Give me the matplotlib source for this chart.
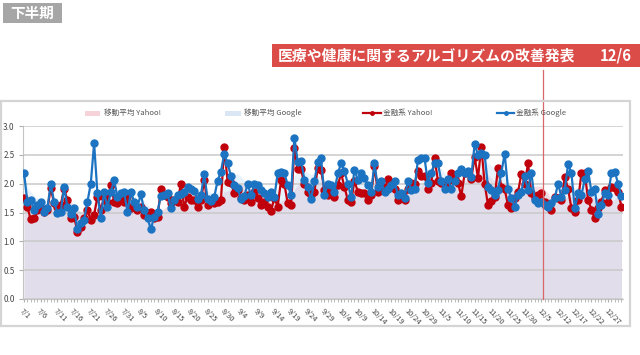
import numpy as np
import pandas as pd
import matplotlib
matplotlib.use('Agg')
import matplotlib.pyplot as plt
from matplotlib.patches import Rectangle
from matplotlib.lines import Line2D

plt.rcParams['font.family'] = ['Noto Sans CJK JP', 'DejaVu Sans']

# x tick labels (every 5th data point)
tick_labels = ['7/1', '7/6', '7/11', '7/16', '7/21', '7/26', '7/31', '8/5', '8/10', '8/15',
               '8/20', '8/25', '8/30', '9/4', '9/9', '9/14', '9/19', '9/24', '9/29', '10/4',
               '10/9', '10/14', '10/19', '10/24', '10/29', '11/5', '11/10', '11/15', '11/20',
               '11/25', '11/30', '12/5', '12/12', '12/17', '12/22', '12/27']

# 金融系 Yahoo!
yahoo = [1.75, 1.60, 1.38, 1.40, 1.54, 1.57, 1.51, 1.54, 1.93, 1.66, 1.60, 1.63, 1.91, 1.72, 1.40,
         1.43, 1.17, 1.25, 1.40, 1.54, 1.37, 1.46, 1.77, 1.54, 1.77, 1.69, 1.98, 1.69, 1.66, 1.72,
         1.69, 1.77, 1.57, 1.63, 1.54, 1.60, 1.46, 1.49, 1.51, 1.40, 1.42, 1.91, 1.80, 1.77, 1.66,
         1.72,
         1.69, 2.00, 1.60, 1.77, 1.72, 1.72, 1.60, 1.72, 2.06, 1.63, 1.72, 1.66, 1.69, 1.72, 2.63,
         2.03, 2.02, 1.83, 1.89, 1.75, 1.72, 1.80, 1.69, 1.86, 1.75, 1.63, 1.69, 1.60, 1.53, 1.75,
         1.60, 2.06, 2.00, 1.66, 1.63, 2.61, 2.26, 2.25, 2.00, 1.86, 1.80, 1.86, 2.28, 2.24, 1.89,
         1.80, 1.92,
         1.77, 1.97, 2.18, 1.94, 1.72, 1.69, 2.05, 1.86, 1.84, 1.83, 1.72, 1.80, 2.30, 1.86, 1.97,
         1.89, 2.08, 1.97, 1.91, 1.71, 1.80, 1.72, 1.91, 2.02, 2.00, 2.22, 2.14, 2.14, 1.91, 2.02,
         2.44, 2.05, 2.02, 2.00, 2.05, 2.19, 2.08, 2.02, 1.78, 2.18, 2.20, 2.08, 2.47, 2.10, 2.64,
         2.00,
         1.63, 1.70, 1.77, 2.27, 1.95, 1.90, 1.63, 1.57, 1.75, 1.85, 2.17, 2.00, 2.35, 1.83, 1.75,
         1.80, 1.83, 1.69, 1.65, 1.54, 1.77, 1.75, 1.72, 2.12, 1.91, 1.57, 1.51, 1.72, 2.18, 2.18,
         1.72, 1.55, 1.40, 1.57, 1.69, 1.89, 1.69, 1.95, 1.92, 1.85, 1.60]

# 金融系 Google
google = [2.19, 1.69, 1.72, 1.54, 1.63, 1.69, 1.51, 1.57, 2.00, 1.69, 1.50, 1.51, 1.94, 1.60, 1.48,
          1.57, 1.21, 1.31, 1.37, 1.69, 2.00, 2.70, 1.83, 1.40, 1.85, 1.60, 1.85, 2.06, 1.77, 1.83,
          1.85, 1.51, 1.85, 1.69, 1.60, 1.82, 1.54, 1.40, 1.21, 1.43, 1.51, 1.79, 1.80, 1.83, 1.57,
          1.72,
          1.80, 1.82, 1.85, 1.94, 1.90, 1.88, 1.73, 1.80, 2.17, 1.73, 1.70, 1.77, 2.05, 2.21, 2.52,
          2.35, 2.13, 1.98, 1.93, 1.73, 1.79, 1.99, 1.80, 1.99, 1.98, 1.89, 1.83, 1.77, 1.85, 1.77,
          2.18, 2.21, 2.18, 1.98, 1.80, 2.80, 2.38, 2.40, 2.07, 1.94, 1.73, 2.04, 2.38, 2.44, 1.80,
          2.00, 1.98,
          1.86, 2.18, 2.35, 2.22, 2.00, 1.77, 2.24, 2.06, 2.18, 2.09, 1.97, 1.86, 2.35, 1.94, 2.05,
          1.86, 1.91, 1.97, 2.05, 1.80, 1.83, 1.75, 2.05, 1.89, 1.91, 2.41, 2.44, 2.44, 2.02, 2.19,
          2.35, 2.35, 2.05, 1.91, 2.08, 1.91, 2.05, 2.19, 2.26, 2.19, 2.22, 2.11, 2.69, 2.50, 2.53,
          2.50,
          1.95, 1.89, 1.80, 1.89, 2.19, 2.52, 1.91, 1.75, 1.60, 1.80, 1.86, 2.14, 1.89, 2.19, 1.72,
          1.66, 1.69, 1.63, 1.60, 1.66, 1.75, 2.00, 1.77, 1.89, 2.34, 2.18, 1.57, 1.83, 1.80, 2.08,
          2.22, 1.86, 1.90, 1.48, 1.63, 1.84, 1.80, 2.19, 2.20, 2.00, 1.78]

# 移動平均 (7 points)
ma_yahoo = pd.Series(yahoo).rolling(7, min_periods=1).mean()
ma_google = pd.Series(google).rolling(7, min_periods=1).mean()

event_pos = 155.5  # 12/6

W, H = 640, 355
fig = plt.figure(figsize=(W / 100, H / 100), dpi=100)

def fx(px):
    return px / W

def fy(py):
    return 1 - py / H

# outer frame of the chart
fig.patches.append(Rectangle((fx(0.8), fy(326)), fx(629), 225 / H, transform=fig.transFigure,
                             fill=False, ec='#d4d4d4', lw=1.6))

# header boxes
fig.patches.append(Rectangle((fx(3), fy(23)), fx(59), 20 / H, transform=fig.transFigure,
                             fc='#a6a6a6', ec='none'))
fig.text(fx(32.5), fy(13), '下半期', color='white', fontsize=10.5, fontweight='bold',
         ha='center', va='center')
fig.patches.append(Rectangle((fx(272), fy(67)), fx(368), 23 / H, transform=fig.transFigure,
                             fc='#db4b47', ec='none'))
fig.text(fx(278), fy(55.5), '医療や健康に関するアルゴリズムの改善発表', color='white',
         fontsize=10.7, fontweight='bold', ha='left', va='center')
fig.text(fx(632), fy(55.5), '12/6', color='white', fontsize=10.7, fontweight='bold',
         ha='right', va='center')

ax = fig.add_axes([fx(23), fy(299), fx(599.5), 173 / H])
x = np.arange(len(yahoo))

ax.fill_between(x, 0, ma_yahoo, color='#e9aaba', alpha=0.4, lw=0, zorder=1)
ax.fill_between(x, 0, ma_google, color='#c6dff9', alpha=0.4, lw=0, zorder=1)
ax.plot(x, yahoo, color='#c0000b', lw=1.6, marker='o', ms=5.0, zorder=3)
ax.plot(x, google, color='#1b73c2', lw=1.6, marker='o', ms=5.0, zorder=4)

ax.axvline(event_pos, ymin=0, ymax=(299 - 70) / 173, color='#d9676a', lw=0.9,
           clip_on=False, zorder=5)

ax.set_xlim(-0.3, len(yahoo) - 0.7)
ax.set_ylim(0, 3.0)
ax.set_yticks(np.arange(0, 3.01, 0.5))
ax.set_yticklabels(['%.1f' % v for v in np.arange(0, 3.01, 0.5)])
ax.set_xticks(np.arange(0, 5 * len(tick_labels), 5))
ax.set_xticklabels(tick_labels, rotation=-45, ha='left', va='top', rotation_mode='anchor')
ax.set_xticks(x, minor=True)
ax.tick_params(axis='x', which='both', length=2, color='#b0b0b0', labelsize=5.4,
               labelcolor='#444444', pad=4)
ax.tick_params(axis='y', length=3, color='#b0b0b0', labelsize=5.8, labelcolor='#444444', pad=3)

ax.set_axisbelow(False)
ax.grid(axis='y', color='#c9c9c9', lw=1.1)
for s in ['top', 'right']:
    ax.spines[s].set_visible(False)
ax.spines['left'].set_color('#c4c4c4')
ax.spines['bottom'].set_color('#c4c4c4')

# legend
leg_y = fy(113)
fig.patches.append(Rectangle((fx(85), fy(116)), fx(15), 5 / H, transform=fig.transFigure,
                             fc='#f6d3d9', ec='none'))
fig.text(fx(104), leg_y, '移動平均 Yahoo!', fontsize=5.5, color='#555555', va='center')
fig.patches.append(Rectangle((fx(225), fy(116)), fx(16), 5 / H, transform=fig.transFigure,
                             fc='#dbe6f4', ec='none'))
fig.text(fx(244), leg_y, '移動平均 Google', fontsize=5.5, color='#555555', va='center')
fig.lines.append(Line2D([fx(363), fx(381)], [leg_y, leg_y], transform=fig.transFigure,
                        color='#c0000b', lw=1.6))
fig.lines.append(Line2D([fx(372)], [leg_y], transform=fig.transFigure, color='#c0000b',
                        marker='o', ms=2.5))
fig.text(fx(383), leg_y, '金融系 Yahoo!', fontsize=5.5, color='#555555', va='center')
fig.lines.append(Line2D([fx(497), fx(514)], [leg_y, leg_y], transform=fig.transFigure,
                        color='#1b73c2', lw=1.6))
fig.lines.append(Line2D([fx(505.5)], [leg_y], transform=fig.transFigure, color='#1b73c2',
                        marker='o', ms=2.5))
fig.text(fx(516), leg_y, '金融系 Google', fontsize=5.5, color='#555555', va='center')

fig.savefig('out.png', dpi=100)
